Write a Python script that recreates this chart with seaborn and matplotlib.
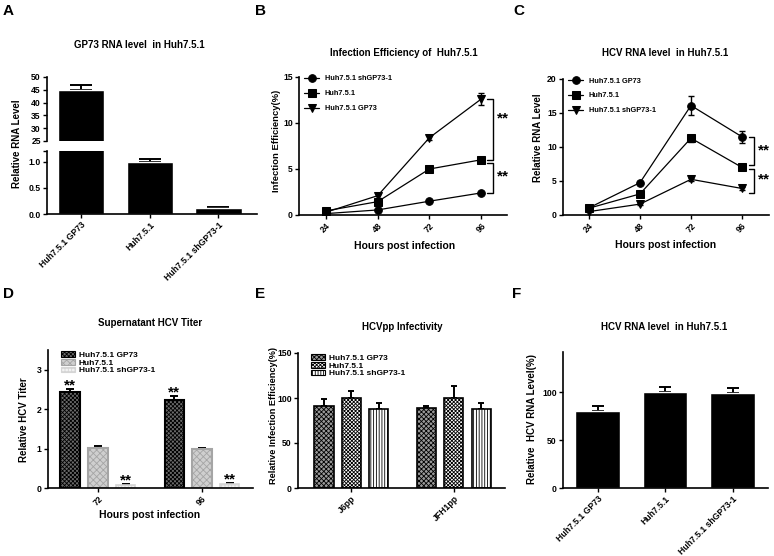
import numpy as np
import pandas as pd
import matplotlib
matplotlib.use("Agg")
import matplotlib.pyplot as plt
import seaborn as sns
from matplotlib.patches import Patch

sns.set_style("ticks")
plt.rcParams['font.family'] = ['Liberation Sans', 'DejaVu Sans']
plt.rcParams['font.weight'] = 'bold'
plt.rcParams['axes.labelweight'] = 'bold'
plt.rcParams['text.color'] = 'black'
plt.rcParams['xtick.color'] = 'black'
plt.rcParams['ytick.color'] = 'black'
plt.rcParams['axes.edgecolor'] = 'black'
plt.rcParams['hatch.linewidth'] = 0.6

W, H = 774, 556

# ---- data ----
# A: GP73 RNA level
a_groups = ['Huh7.5.1 GP73', 'Huh7.5.1', 'Huh7.5.1 shGP73-1']
a_level = [44.8, 1.0, 0.11]
a_err = [1.9, 0.05, 0.03]

hours = [24, 48, 72, 96]

# B: infection efficiency (%)
b_sh = [0.15, 0.55, 1.5, 2.4]
b_huh = [0.45, 1.45, 5.0, 6.0]
b_gp73 = [0.3, 2.1, 8.4, 12.6]
b_sh_err = [0.05, 0.1, 0.1, 0.15]
b_huh_err = [0.1, 0.15, 0.2, 0.2]
b_gp73_err = [0.1, 0.2, 0.25, 0.65]

# C: HCV RNA level
c_gp73 = [1.05, 4.75, 16.1, 11.5]
c_huh = [1.0, 3.1, 11.3, 7.0]
c_sh = [0.5, 1.6, 5.25, 3.9]
c_gp73_err = [0.1, 0.2, 1.35, 0.9]
c_huh_err = [0.1, 0.2, 0.5, 0.2]
c_sh_err = [0.05, 0.1, 0.2, 0.2]

# D: supernatant HCV titer
d_hours = ['72', '96']
d_gp73 = [2.43, 2.23]
d_huh = [1.02, 1.0]
d_sh = [0.07, 0.1]
d_gp73_err = [0.07, 0.1]
d_huh_err = [0.04, 0.02]
d_sh_err = [0.02, 0.02]

# E: HCVpp infectivity
e_pp = ['J6pp', 'JFH1pp']
e_gp73 = [91, 89]
e_huh = [100, 100]
e_sh = [87.4, 88]
e_gp73_err = [8, 2.6]
e_huh_err = [7.5, 13]
e_sh_err = [6.6, 6.4]

# F: HCV RNA level (%)
f_level = [80, 100, 99.5]
f_err = [5.2, 5.6, 5.3]

cells = ['Huh7.5.1 GP73', 'Huh7.5.1', 'Huh7.5.1 shGP73-1']

fig = plt.figure(figsize=(W / 100, H / 100), dpi=100)


def add_ax(x0, y0, x1, y1):
    return fig.add_axes([x0 / W, 1 - y1 / H, (x1 - x0) / W, (y1 - y0) / H])


def ftext(x, y, s, **kw):
    fig.text(x / W, 1 - y / H, s, ha='center', va='center', fontweight='bold', **kw)


def style(ax):
    sns.despine(ax=ax)
    for s in ['left', 'bottom']:
        ax.spines[s].set_linewidth(1.2)
    ax.tick_params(width=1.0, length=3, labelsize=6.2, pad=1.5)
    ax.set_xlabel('')
    ax.set_ylabel('')


def up_err(ax, x, y, err, cap):
    ax.errorbar(x, y, yerr=[np.zeros(len(err)), err], fmt='none', ecolor='black',
                elinewidth=1.4, capsize=cap, capthick=1.4, zorder=1)


def rot_labels(ax, labels):
    ax.set_xticks(ax.get_xticks(), labels, rotation=45, ha='right', rotation_mode='anchor')


# ---- A (broken axis) ----
ax_top = add_ax(47, 77, 257, 141)
ax_bot = add_ax(47, 151, 257, 214)
df_a = pd.DataFrame({'group': a_groups, 'level': a_level})
for ax in (ax_top, ax_bot):
    sns.barplot(data=df_a, x='group', y='level', color='black', saturation=1,
                width=0.67, errorbar=None, ax=ax, zorder=2)
    up_err(ax, range(3), a_level, a_err, 8)
    ax.set_xlim(-0.49, 2.56)
    style(ax)
ax_top.set_ylim(25, 50)
ax_top.set_yticks(range(25, 51, 5))
ax_top.spines['bottom'].set_visible(False)
ax_top.tick_params(bottom=False, labelbottom=False)
ax_bot.set_ylim(0, 1.2)
ax_bot.set_yticks([0, 0.5, 1.0, 1.2], ['0.0', '0.5', '1.0', ''])
rot_labels(ax_bot, a_groups)
ftext(139, 45, 'GP73 RNA level  in Huh7.5.1', fontsize=7)
ftext(17, 144, 'Relative RNA Level', fontsize=7, rotation=90)


# ---- B / C line plots ----
def line_panel(ax, series, names, markers, errs, ylim, yticks, xlim):
    df = pd.DataFrame({'hours': hours * len(series),
                       'val': sum(series, []),
                       'line': sum([[n] * 4 for n in names], [])})
    sns.lineplot(data=df, x='hours', y='val', hue='line', style='line',
                 hue_order=names, style_order=names,
                 palette={n: 'black' for n in names},
                 markers=dict(zip(names, markers)), dashes=False,
                 markersize=5.5, linewidth=0.9, markeredgecolor='black',
                 errorbar=None, ax=ax)
    for s, e in zip(series, errs):
        ax.errorbar(hours, s, yerr=e, fmt='none', ecolor='black', elinewidth=1,
                    capsize=2, capthick=1)
    handles, labels = ax.get_legend_handles_labels()
    ax.legend(handles, labels, frameon=False, loc='upper left', bbox_to_anchor=(0.0, 1.05),
              handlelength=2.0, labelspacing=1.05, borderaxespad=0.3,
              prop={'weight': 'bold', 'size': 5.3})
    ax.set_ylim(*ylim)
    ax.set_yticks(yticks)
    ax.set_xlim(*xlim)
    ax.set_xticks(hours)
    style(ax)
    rot_labels(ax, [str(h) for h in hours])


def bracket(ax, x0, x1, ytop, ybot):
    ax.plot([x0, x1, x1, x0], [ytop, ytop, ybot, ybot], color='black', lw=1, clip_on=False)


ax_b = add_ax(299, 77, 507, 215)
line_panel(ax_b, [b_sh, b_huh, b_gp73], ['Huh7.5.1 shGP73-1', 'Huh7.5.1', 'Huh7.5.1 GP73'],
           ['o', 's', 'v'], [b_sh_err, b_huh_err, b_gp73_err], (0, 15), [0, 5, 10, 15], (11.5, 108))
bracket(ax_b, 98.8, 101.5, b_gp73[-1], b_huh[-1])
bracket(ax_b, 98.8, 101.5, b_huh[-1] - 0.4, b_sh[-1])
ax_b.text(106, 10.5, '**', fontsize=11, ha='center', va='center', clip_on=False)
ax_b.text(106, 4.2, '**', fontsize=11, ha='center', va='center', clip_on=False)
ftext(403.5, 53, 'Infection Efficiency of  Huh7.5.1', fontsize=7)
ftext(276.5, 141, 'Infection Efficiency(%)', fontsize=6.8, rotation=90)
ftext(404.5, 246, 'Hours post infection', fontsize=7.5)

ax_c = add_ax(563, 79, 769, 215)
line_panel(ax_c, [c_gp73, c_huh, c_sh], ['Huh7.5.1 GP73', 'Huh7.5.1', 'Huh7.5.1 shGP73-1'],
           ['o', 's', 'v'], [c_gp73_err, c_huh_err, c_sh_err], (0, 20), [0, 5, 10, 15, 20], (11.8, 108.7))
bracket(ax_c, 99.3, 101.6, c_gp73[-1], c_huh[-1] + 0.35)
bracket(ax_c, 99.3, 101.6, c_huh[-1] - 0.2, c_sh[-1] - 0.7)
ax_c.text(106.4, 9.5, '**', fontsize=11, ha='center', va='center', clip_on=False)
ax_c.text(106.4, 5.2, '**', fontsize=11, ha='center', va='center', clip_on=False)
ftext(665, 53, 'HCV RNA level  in Huh7.5.1', fontsize=7)
ftext(538, 137.5, 'Relative RNA Level', fontsize=7, rotation=90)
ftext(665.5, 245, 'Hours post infection', fontsize=7.5)


# ---- D / E grouped hatched bars ----
def group_panel(ax, cats, series, errs, looks, ylim, yticks, xlim, cap):
    df = pd.DataFrame({'cat': cats * 3,
                       'val': sum(series, []),
                       'cell': sum([[c] * len(cats) for c in cells], [])})
    sns.barplot(data=df, x='cat', y='val', hue='cell', hue_order=cells, gap=0.3,
                errorbar=None, legend=False, ax=ax, zorder=2)
    for cont, err, (fc, ec, hatch, lw) in zip(ax.containers, errs, looks):
        xs, ys = [], []
        for p in cont:
            p.set_facecolor(fc)
            p.set_edgecolor(ec)
            p.set_hatch(hatch)
            p.set_linewidth(lw)
            xs.append(p.get_x() + p.get_width() / 2)
            ys.append(p.get_height())
        up_err(ax, xs, ys, err, cap)
    handles = [Patch(facecolor=fc, edgecolor=ec, hatch=h, linewidth=0.8) for fc, ec, h, lw in looks]
    ax.legend(handles, cells, frameon=False, loc='upper left', bbox_to_anchor=(0.04, 1.03),
              handlelength=1.6, handleheight=0.7, labelspacing=0.0, handletextpad=0.5,
              borderaxespad=0.2, prop={'weight': 'bold', 'size': 6})
    ax.set_ylim(*ylim)
    ax.set_yticks(yticks)
    ax.set_xlim(*xlim)
    style(ax)
    rot_labels(ax, cats)
    return ax


ax_d = add_ax(48, 350, 253, 488)
d_looks = [('#6a6a6a', 'black', 'xxxxxxxx', 1.5),
           ('#cfcfcf', '#a5a5a5', 'xxxxx', 1.5),
           ('#f2f2f2', '#d5d5d5', '+++++', 1.2)]
group_panel(ax_d, d_hours, [d_gp73, d_huh, d_sh], [d_gp73_err, d_huh_err, d_sh_err],
            d_looks, (0, 3.5), [0, 1, 2, 3], (-0.48, 1.49), 3)
for i in range(2):
    ax_d.text(ax_d.containers[0][i].get_x() + ax_d.containers[0][i].get_width() / 2,
              d_gp73[i] + d_gp73_err[i] + 0.1, '**', fontsize=11, ha='center', va='center')
    ax_d.text(ax_d.containers[2][i].get_x() + ax_d.containers[2][i].get_width() / 2,
              d_sh[i] + d_sh_err[i] + 0.1, '**', fontsize=11, ha='center', va='center')
ftext(150, 323, 'Supernatant HCV Titer', fontsize=7)
ftext(24, 420, 'Relative HCV Titer', fontsize=7, rotation=90)
ftext(150, 515, 'Hours post infection', fontsize=7.5)

ax_e = add_ax(298, 353, 505, 488)
e_looks = [('#9a9a9a', 'black', 'xxxxxxx', 1.2),
           ('white', 'black', 'xxxxxxxxx', 1.2),
           ('white', 'black', '||||||', 1.2)]
group_panel(ax_e, e_pp, [e_gp73, e_huh, e_sh], [e_gp73_err, e_huh_err, e_sh_err],
            e_looks, (0, 150), [0, 50, 100, 150], (-0.52, 1.5), 2.2)
ftext(402.5, 327, 'HCVpp Infectivity', fontsize=7)
ftext(274, 416, 'Relative Infection Efficiency(%)', fontsize=6.6, rotation=90)

# ---- F ----
ax_f = add_ax(563, 352, 768, 488)
df_f = pd.DataFrame({'group': cells, 'level': f_level})
sns.barplot(data=df_f, x='group', y='level', color='black', saturation=1,
            width=0.66, errorbar=None, ax=ax_f, zorder=2)
up_err(ax_f, range(3), f_level, f_err, 4.3)
ax_f.set_xlim(-0.51, 2.52)
ax_f.set_ylim(0, 142)
ax_f.set_yticks([0, 50, 100])
style(ax_f)
rot_labels(ax_f, cells)
ftext(664.5, 327, 'HCV RNA level  in Huh7.5.1', fontsize=7)
ftext(532, 419, 'Relative  HCV RNA Level(%)', fontsize=7, rotation=90)

# panel letters
for letter, x, y in [('A', 8, 11), ('B', 260, 11), ('C', 519, 11),
                     ('D', 8, 294), ('E', 260, 294), ('F', 517, 294)]:
    ftext(x, y, letter, fontsize=11)

fig.savefig('out.png', dpi=100)
